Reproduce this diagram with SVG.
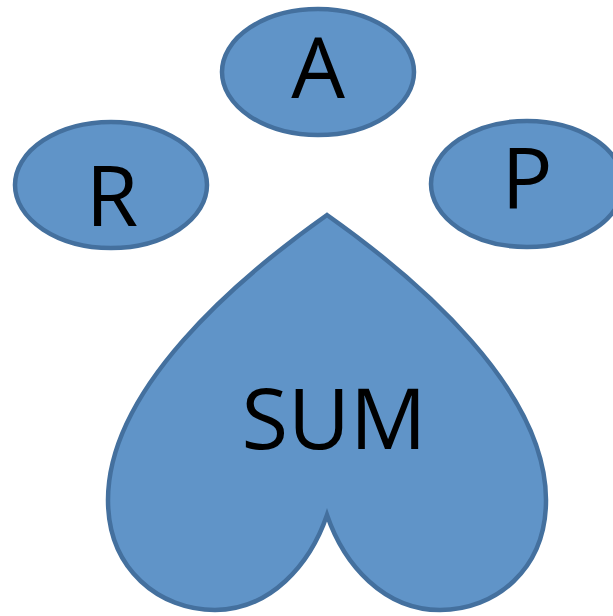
<svg xmlns="http://www.w3.org/2000/svg" width="613" height="616" viewBox="0 0 613 616">
<style>
.shape{fill:#6094C8;stroke:#44709E;stroke-width:4.5}
.lbl{font-family:"Open Sans","Liberation Sans",sans-serif;font-size:85px;fill:#000;text-anchor:middle}
</style>
<rect width="613" height="616" fill="#fff"/>
<g id="node-A"><ellipse class="shape" cx="318" cy="72" rx="96" ry="63"/><text class="lbl" x="318" y="98">A</text></g>
<g id="node-R"><ellipse class="shape" cx="111" cy="185" rx="96" ry="63"/><text class="lbl" x="112" y="226">R</text></g>
<g id="node-P"><ellipse class="shape" cx="527" cy="184" rx="96" ry="63"/><text class="lbl" x="527" y="209">P</text></g>
<g id="node-SUM"><path class="shape" d="M327,215 C235,280 108,390 108,500 C108,570 160,610 215,610 C270,610 310,565 327,515 C344,565 384,610 440,610 C495,610 546,570 546,500 C546,390 419,280 327,215 Z"/><text class="lbl" x="334" y="449">SUM</text></g>
<g id="connectors"></g>
</svg>
